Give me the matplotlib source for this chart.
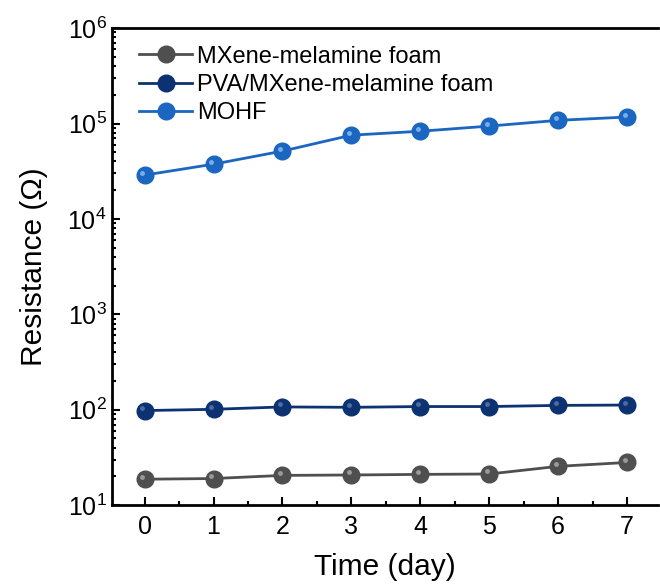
import matplotlib
matplotlib.use("Agg")
import matplotlib.pyplot as plt
from matplotlib.ticker import LogLocator, MultipleLocator, NullFormatter
from matplotlib.transforms import offset_copy

plt.rcParams['font.family'] = ['Liberation Sans', 'DejaVu Sans']
plt.rcParams['mathtext.fontset'] = 'custom'
plt.rcParams['mathtext.rm'] = 'Liberation Sans'
plt.rcParams['mathtext.it'] = 'Liberation Sans:italic'
plt.rcParams['mathtext.bf'] = 'Liberation Sans:bold'

days = [0, 1, 2, 3, 4, 5, 6, 7]
mxene = [18.7, 19.0, 20.5, 20.7, 21.0, 21.2, 25.5, 28.0]
pva = [98, 101, 107, 106, 108, 108, 111, 112]
mohf = [28800, 37500, 51400, 75500, 83000, 94000, 108000, 117000]
labels = ["MXene-melamine foam", "PVA/MXene-melamine foam", "MOHF"]
colors = ["#4f4f4f", "#0d3272", "#1a66c0"]
highlights = ["#a8a8a8", "#5576ad", "#8cbcf0"]

fig = plt.figure(figsize=(6.6, 5.86), dpi=100)
ax = fig.add_axes([0.17, 0.138, 0.827, 0.814])

hl_trans = offset_copy(ax.transData, fig=fig, x=-2.5, y=2.5, units='dots')
for vals, lab, c, h in zip([mxene, pva, mohf], labels, colors, highlights):
    ax.plot(days, vals, '-o', color=c, lw=2, ms=12, mfc=c, mec=c, label=lab)
    ax.plot(days, vals, 'o', color=h, ms=3.5, alpha=0.85, markeredgewidth=0,
            transform=hl_trans)

ax.set_yscale('log')
ax.set_ylim(10, 1e6)
ax.set_xlim(-0.47, 7.45)
ax.xaxis.set_major_locator(MultipleLocator(1))
ax.xaxis.set_minor_locator(MultipleLocator(0.5))
ax.yaxis.set_major_locator(LogLocator(base=10))
ax.yaxis.set_minor_locator(LogLocator(base=10, subs=range(2, 10)))
ax.yaxis.set_minor_formatter(NullFormatter())

ax.tick_params(which='both', direction='in', top=False, right=False, labelsize=18, width=1.5)
ax.tick_params(which='major', length=6)
ax.tick_params(which='minor', length=3)
ax.tick_params(axis='x', pad=7)
ax.tick_params(axis='y', pad=4)
for s in ax.spines.values():
    s.set_linewidth(2)
ax.spines['right'].set_visible(False)

ax.set_xlabel("Time (day)", fontsize=21.5, labelpad=10)
ax.set_ylabel("Resistance (\u03a9)", fontsize=21.5, labelpad=14)

leg = ax.legend(loc='upper left', frameon=False, fontsize=17, handlelength=2.25,
                handletextpad=0.2, labelspacing=0.27, borderaxespad=0.0,
                bbox_to_anchor=(0.032, 0.983))

fig.savefig("out.png", dpi=100)
